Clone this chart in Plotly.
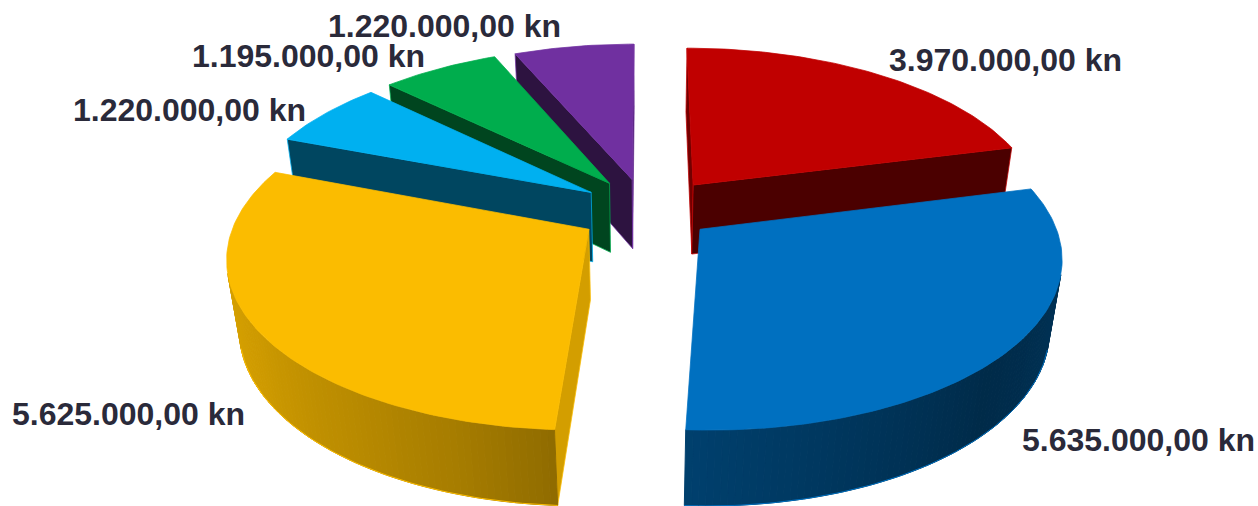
import math
import plotly.graph_objects as go

categories = ["A", "B", "C", "D", "E", "F"]
values = [3970000, 5635000, 5625000, 1220000, 1195000, 1220000]
tick_labels = ["3.970.000,00 kn", "5.635.000,00 kn", "5.625.000,00 kn",
               "1.220.000,00 kn", "1.195.000,00 kn", "1.220.000,00 kn"]
colors = ["#C00000", "#0070C0", "#FBBC00", "#00B0F0", "#00AD4D", "#7030A0"]
start_face_shade = [0.60, 0.40, 0.84, 0.40, 0.40, 0.40]
end_face_shade = [0.39, 0.40, 0.84, 0.40, 0.40, 0.40]
label_x = [1005, 1138, 128, 189, 308, 444]
label_y = [60, 440, 414, 110, 56, 26]
draw_order = [5, 4, 3, 0, 2, 1]
nudge_x = [0.018, 0.0, 0.010, 0.013, 0.010, 0.003]
nudge_y = [0.008, -0.006, 0.012, 0.004, 0.004, 0.012]

W, H = 1258, 506
CX, CY, A, B, P, Q, DEPTH, EXPLODE = 645, 209, 350, 164, 0.15, 0.03, 72, 0.20
SHADE_ANGLE = [0, 90, 135, 183, 197, 213, 238, 265, 360]
SHADE_VALUE = [0.6, 0.48, 0.38, 0.57, 0.66, 0.73, 0.82, 0.87, 0.9]


def project(X, Y, z):
    w = 1 - P * Y + Q * z
    return CX + A * X / w, CY + (B * Y + DEPTH * z) / w


def mix(hex_color, f):
    r, g, b = (int(hex_color[i:i + 2], 16) for i in (1, 3, 5))
    return f"rgb({r * f:.0f},{g * f:.0f},{b * f:.0f})"


def shade_at(deg):
    deg %= 360
    for i in range(len(SHADE_ANGLE) - 1):
        a0, a1 = SHADE_ANGLE[i], SHADE_ANGLE[i + 1]
        if a0 <= deg <= a1:
            t = (deg - a0) / (a1 - a0)
            return SHADE_VALUE[i] + t * (SHADE_VALUE[i + 1] - SHADE_VALUE[i])
    return 0.6


def area(poly):
    return sum(poly[i][0] * poly[(i + 1) % len(poly)][1]
               - poly[(i + 1) % len(poly)][0] * poly[i][1] for i in range(len(poly)))


fig = go.Figure()


def add_poly(poly, fill, line, width):
    xs = [p[0] for p in poly] + [poly[0][0]]
    ys = [p[1] for p in poly] + [poly[0][1]]
    fig.add_trace(go.Scatter(x=xs, y=ys, mode="lines", fill="toself", fillcolor=fill,
                             line=dict(color=line, width=width), hoverinfo="skip",
                             showlegend=False))


total = sum(values)
spans = []
acc = 0.0
for v in values:
    spans.append((acc, acc + 360 * v / total))
    acc += 360 * v / total

for idx in draw_order:
    a0, a1 = spans[idx]
    color = colors[idx]
    mid = math.radians((a0 + a1) / 2)
    ox = EXPLODE * math.sin(mid) + nudge_x[idx]
    oy = -EXPLODE * math.cos(mid) + nudge_y[idx]
    n = max(4, int((a1 - a0) / 1.0))
    angs = [a0 + (a1 - a0) * i / n for i in range(n + 1)]
    rim = [(ox + math.sin(math.radians(a)), oy - math.cos(math.radians(a))) for a in angs]
    apex = (ox, oy)
    # flat cut faces
    for p, q, f in ((apex, rim[0], start_face_shade[idx]), (rim[-1], apex, end_face_shade[idx])):
        quad = [project(*p, 0), project(*q, 0), project(*q, 1), project(*p, 1)]
        if area(quad) < 0:
            add_poly(quad, mix(color, f), color, 0.75)
    # curved outer wall, one band per step
    for i in range(n):
        quad = [project(*rim[i], 0), project(*rim[i + 1], 0),
                project(*rim[i + 1], 1), project(*rim[i], 1)]
        if area(quad) < 0:
            c = mix(color, shade_at((angs[i] + angs[i + 1]) / 2))
            add_poly(quad, c, c, 1.0)
    lower = [project(*rim[i], 1) for i in range(n + 1)
             if area([project(*rim[max(i - 1, 0)], 0), project(*rim[min(i + 1, n)], 0),
                      project(*rim[min(i + 1, n)], 1), project(*rim[max(i - 1, 0)], 1)]) < 0]
    if lower:
        fig.add_trace(go.Scatter(x=[p[0] for p in lower], y=[p[1] for p in lower], mode="lines",
                                 line=dict(color=color, width=1), hoverinfo="skip", showlegend=False))
    # top face
    top = [project(*apex, 0)] + [project(*r, 0) for r in rim]
    add_poly(top, color, color, 0.75)

for t, x, y in zip(tick_labels, label_x, label_y):
    fig.add_annotation(x=x, y=y, text=t, showarrow=False, xanchor="center", yanchor="middle",
                       font=dict(family="Liberation Sans", size=32, color="#2A2A3A"))
fig.update_annotations(font_weight="bold")

fig.update_layout(width=W, height=H, margin=dict(l=0, r=0, t=0, b=0),
                  paper_bgcolor="white", plot_bgcolor="white", showlegend=False,
                  xaxis=dict(range=[0, W], visible=False, fixedrange=True),
                  yaxis=dict(range=[H, 0], visible=False, fixedrange=True))
fig.write_html("out.html", config={"displayModeBar": False},
               post_script="document.body.style.margin='0';document.body.style.overflow='hidden';")
